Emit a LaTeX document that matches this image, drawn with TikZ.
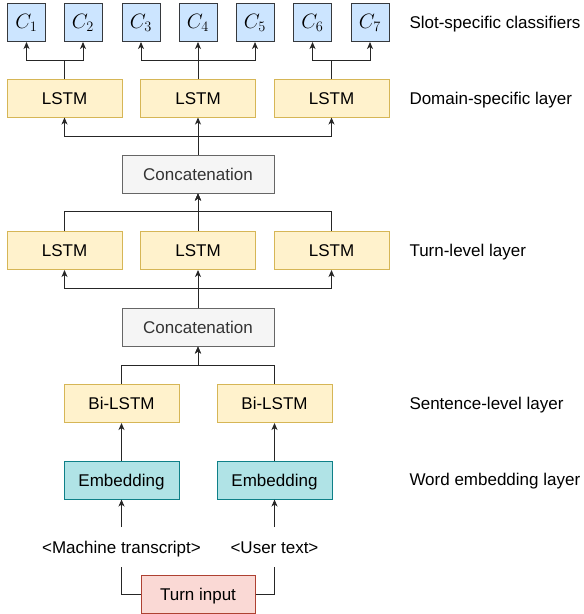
\documentclass[tikz,border=0pt]{standalone}
\usepackage{fontspec}
\setmainfont{Liberation Sans}
\usetikzlibrary{arrows.meta}
\definecolor{lstmfill}{HTML}{FFF2CC}
\definecolor{lstmdraw}{HTML}{D6B656}
\definecolor{clsfill}{HTML}{CCE5FF}
\definecolor{clsdraw}{HTML}{36393D}
\definecolor{catfill}{HTML}{F5F5F5}
\definecolor{catdraw}{HTML}{666666}
\definecolor{cattext}{HTML}{333333}
\definecolor{embfill}{HTML}{B0E3E6}
\definecolor{embdraw}{HTML}{0E8088}
\definecolor{tifill}{HTML}{FAD9D5}
\definecolor{tidraw}{HTML}{AE4132}
\tikzset{
  base/.style={inner sep=0pt, line width=1pt, font=\fontsize{17}{20}\selectfont},
  boxtext/.style={text height=12.2pt, text depth=0pt},
  lstm/.style={base, boxtext, draw=lstmdraw, fill=lstmfill, minimum width=115pt, minimum height=38pt},
  cls/.style={base, draw=clsdraw, fill=clsfill, minimum width=38pt, minimum height=38pt, font=\fontsize{20.5}{24}\selectfont},
  cat/.style={base, boxtext, draw=catdraw, fill=catfill, text=cattext, minimum width=152pt, minimum height=38pt},
  emb/.style={base, boxtext, draw=embdraw, fill=embfill, minimum width=115pt, minimum height=38pt},
  tin/.style={base, boxtext, draw=tidraw, fill=tifill, minimum width=114pt, minimum height=38pt},
  txt/.style={base, boxtext, minimum height=39pt},
  lbl/.style={base, anchor=base west},
  conn/.style={line width=1pt, draw=black!85},
  arr/.style={conn, -{Stealth[length=7pt,width=6pt,inset=2pt]}},
}
\begin{document}
\begin{tikzpicture}[x=1pt,y=-1pt]
\useasboundingbox (0,0) rectangle (584,614);
% classifiers
\node[cls] (c1) at (26.5,22.5) {$C_1$};
\node[cls] (c2) at (83,22.5) {$C_2$};
\node[cls] (c3) at (141,22.5) {$C_3$};
\node[cls] (c4) at (198,22.5) {$C_4$};
\node[cls] (c5) at (255,22.5) {$C_5$};
\node[cls] (c6) at (312.5,22.5) {$C_6$};
\node[cls] (c7) at (370,22.5) {$C_7$};
% domain-specific
\node[lstm] (d1) at (64.5,98) {LSTM};
\node[lstm] (d2) at (198,98) {LSTM};
\node[lstm] (d3) at (331.5,98) {LSTM};
% concatenation 1
\node[cat] (cat1) at (198,174) {Concatenation};
% turn-level
\node[lstm] (t1) at (64.5,250.5) {LSTM};
\node[lstm] (t2) at (198,250.5) {LSTM};
\node[lstm] (t3) at (331.5,250.5) {LSTM};
% concatenation 2
\node[cat] (cat2) at (198,327) {Concatenation};
% sentence-level
\node[lstm] (b1) at (121.5,403.5) {Bi-LSTM};
\node[lstm] (b2) at (274.5,403.5) {Bi-LSTM};
% embeddings
\node[emb] (e1) at (121.5,480) {Embedding};
\node[emb] (e2) at (274.5,480) {Embedding};
% inputs
\node[txt] (m1) at (121.5,547) {<Machine transcript>};
\node[txt] (u1) at (274.5,547) {<User text>};
\node[tin] (ti) at (198,594.5) {Turn input};
% labels
\node[lbl] (L1) at (409,28.3) {Slot-specific classifiers};
\node[lbl] (L2) at (409,104.3) {Domain-specific layer};
\node[lbl] (L3) at (409,256.3) {Turn-level layer};
\node[lbl] (L4) at (409,409.3) {Sentence-level layer};
\node[lbl] (L5) at (409,485.3) {Word embedding layer};
% connectors
\draw[conn] (ti.west) -| (m1.south);
\draw[conn] (ti.east) -| (u1.south);
\draw[arr] (m1.north) -- (e1.south);
\draw[arr] (u1.north) -- (e2.south);
\draw[arr] (e1.north) -- (b1.south);
\draw[arr] (e2.north) -- (b2.south);
\draw[arr] (b1.north) -- ++(0,-19) -| (cat2.south);
\draw[arr] (b2.north) -- ++(0,-19) -| (cat2.south);
\draw[arr] (cat2.north) -- ++(0,-19) -| (t1.south);
\draw[arr] (cat2.north) -- ++(0,-19) -| (t3.south);
\draw[arr] (cat2.north) -- (t2.south);
\draw[arr] (t1.north) -- ++(0,-19.5) -| (cat1.south);
\draw[arr] (t3.north) -- ++(0,-19.5) -| (cat1.south);
\draw[arr] (t2.north) -- (cat1.south);
\draw[arr] (cat1.north) -- ++(0,-18) -| (d1.south);
\draw[arr] (cat1.north) -- ++(0,-18) -| (d3.south);
\draw[arr] (cat1.north) -- (d2.south);
\draw[arr] (d1.north) -- ++(0,-18) -| (c1.south);
\draw[arr] (d1.north) -- ++(0,-18) -| (c2.south);
\draw[arr] (d2.north) -- ++(0,-18) -| (c3.south);
\draw[arr] (d2.north) -- ++(0,-18) -| (c5.south);
\draw[arr] (d2.north) -- (c4.south);
\draw[arr] (d3.north) -- ++(0,-18) -| (c6.south);
\draw[arr] (d3.north) -- ++(0,-18) -| (c7.south);
\end{tikzpicture}
\end{document}
